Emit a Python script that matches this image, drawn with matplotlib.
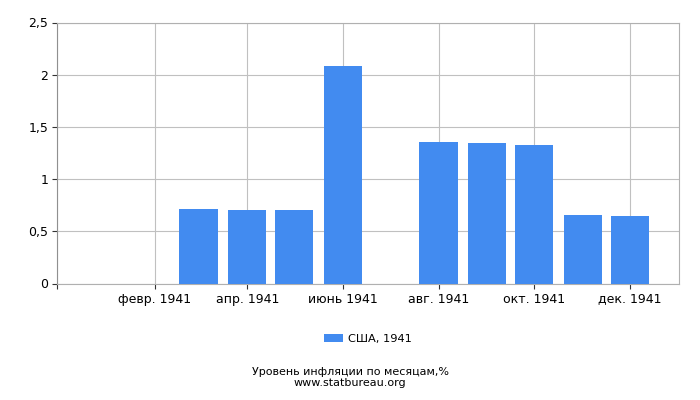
import datetime as dt
import matplotlib
matplotlib.use("Agg")
import matplotlib.pyplot as plt
import matplotlib.dates as mdates

# monthly inflation, USA 1941
months = [dt.date(1941, m, 1) for m in range(1, 13)]
values = [0, 0, 0.71, 0.70, 0.70, 2.08, 0, 1.36, 1.35, 1.33, 0.66, 0.65]
tick_dates = [dt.date(1940, 12, 1)] + [dt.date(1941, m, 1) for m in (2, 4, 6, 8, 10, 12)]
tick_labels = ["", "февр. 1941", "апр. 1941", "июнь 1941", "авг. 1941", "окт. 1941", "дек. 1941"]
y_ticks = [0, 0.5, 1, 1.5, 2, 2.5]
y_labels = ["0", "0,5", "1", "1,5", "2", "2,5"]

plt.rcParams['font.family'] = ['DejaVu Sans']
fig = plt.figure(figsize=(7, 4), dpi=100)
ax = fig.add_axes([0.0821, 0.29125, 0.8872, 0.6525])

ax.bar(months, values, width=24.5, color="#428bf0", zorder=3)

ax.set_xlim(dt.date(1940, 12, 1), dt.date(1942, 1, 1))
ax.set_ylim(0, 2.5)
ax.set_xticks([mdates.date2num(d) for d in tick_dates])
ax.set_xticklabels(tick_labels, fontsize=9)
ax.set_yticks(y_ticks)
ax.set_yticklabels(y_labels, fontsize=9)

ax.grid(True, color="#c0c0c0", linewidth=0.8, zorder=0)
for s in ("top", "right"):
    ax.spines[s].set_color("#b0b0b0")
ax.spines["left"].set_color("#909090")
ax.spines["bottom"].set_color("#b0b0b0")
ax.tick_params(axis="both", length=3.5, width=0.8, color="#333333", pad=3)

ax.legend(["США, 1941"], loc="upper center", bbox_to_anchor=(0.5, -0.155),
          frameon=False, fontsize=8.2, handlelength=1.7, handleheight=0.7,
          handletextpad=0.4)

fig.text(0.5, 0.0625, "Уровень инфляции по месяцам,%", ha="center", fontsize=8)
fig.text(0.5, 0.036, "www.statbureau.org", ha="center", fontsize=8)

fig.savefig("out.png", dpi=100)
